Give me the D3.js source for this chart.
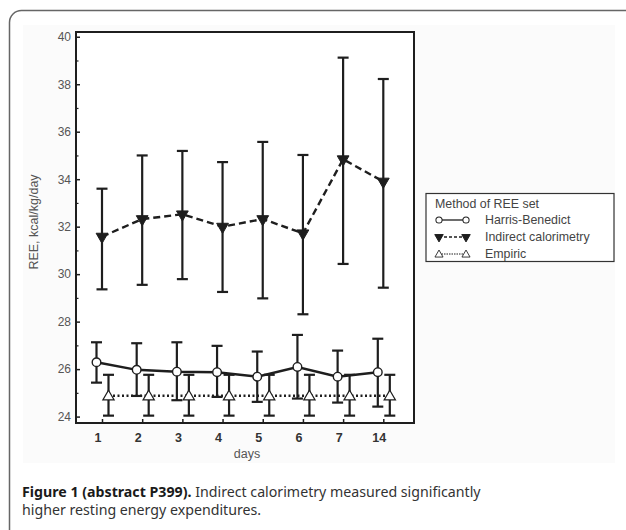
<!DOCTYPE html>
<html>
<head>
<meta charset="utf-8">
<script src="https://cdn.jsdelivr.net/npm/d3@7"></script>
<style>
  body { margin: 0; background: #fff; }
  svg { display: block; }
</style>
</head>
<body>
<script>
// data (REE, kcal/kg/day)
const days = ["1", "2", "3", "4", "5", "6", "7", "14"]

const hbMean  = [26.29, 25.97, 25.89, 25.87, 25.68, 26.09, 25.68, 25.87]
const hbUpper = [27.13, 27.09, 27.13, 26.98, 26.74, 27.44, 26.78, 27.28]
const hbLower = [25.43, 24.87, 24.69, 24.83, 24.62, 24.76, 24.59, 24.42]

const icMean  = [31.58, 32.32, 32.52, 32.00, 32.32, 31.72, 34.84, 33.90]
const icUpper = [33.60, 35.00, 35.19, 34.72, 35.57, 35.02, 39.12, 38.22]
const icLower = [29.36, 29.55, 29.79, 29.25, 28.98, 28.31, 30.43, 29.43]

const empMean  = [24.88, 24.88, 24.88, 24.88, 24.88, 24.88, 24.88, 24.88]
const empUpper = [25.76, 25.76, 25.76, 25.76, 25.76, 25.76, 25.76, 25.76]
const empLower = [24.04, 24.04, 24.04, 24.04, 24.04, 24.04, 24.04, 24.04]

const yTicks = [24, 26, 28, 30, 32, 34, 36, 38, 40]
const yMinor = [25, 27, 29, 31, 33, 35, 37, 39]

const legendTitle = "Method of REE set"
const seriesNames = ["Harris-Benedict", "Indirect calorimetry", "Empiric"]

const width = 626, height = 530
const frame = {left: 76, right: 414, top: 32, bottom: 423}
const ink = "#1e1e1e"
const grey = "#555"

const svg = d3.select("body").append("svg")
  .attr("width", width).attr("height", height)
  .attr("font-family", "'Liberation Sans', Arial, sans-serif")

// outer box of the article figure
svg.append("rect")
  .attr("x", 9.5).attr("y", 10.5).attr("width", 640).attr("height", 620)
  .attr("rx", 12).attr("fill", "#fff").attr("stroke", "#666").attr("stroke-width", 1.5)

// the embedded image area (slightly off-white)
svg.append("rect")
  .attr("x", 23).attr("y", 25).attr("width", 592).attr("height", 438)
  .attr("fill", "#fbfbfb")

const x = d3.scalePoint().domain(days).range([102, 383.3])
const y = d3.scaleLinear().domain([23.73, 40.2]).range([frame.bottom, frame.top])

// plot frame
svg.append("rect")
  .attr("x", frame.left).attr("y", frame.top)
  .attr("width", frame.right - frame.left).attr("height", frame.bottom - frame.top)
  .attr("fill", "#fff").attr("stroke", ink).attr("stroke-width", 2)

// y axis: ticks pointing inward
const yAxis = svg.append("g").attr("transform", `translate(${frame.left},0)`)
yAxis.call(d3.axisRight(y).tickValues(yTicks).tickSize(4).tickFormat(""))
yAxis.call(g => g.select(".domain").remove())
yAxis.selectAll("line").attr("stroke", ink).attr("stroke-width", 1.5)
svg.append("g").attr("transform", `translate(${frame.left},0)`)
  .call(d3.axisRight(y).tickValues(yMinor).tickSize(2.5).tickFormat(""))
  .call(g => g.select(".domain").remove())
  .selectAll("line").attr("stroke", ink).attr("stroke-width", 1.2)
svg.append("g").selectAll("text").data(yTicks).join("text")
  .attr("x", 71).attr("y", d => y(d)).attr("dy", "0.36em")
  .attr("text-anchor", "end").attr("font-size", 12).attr("fill", grey)
  .text(d => d)

// x axis: ticks pointing up into the plot
svg.append("g").attr("transform", `translate(0,${frame.bottom})`)
  .call(d3.axisTop(x).tickSize(4).tickFormat(""))
  .call(g => g.select(".domain").remove())
  .selectAll("line").attr("stroke", ink).attr("stroke-width", 1.5)
svg.append("g").selectAll("text").data(days).join("text")
  .attr("x", d => x(d) - 4).attr("y", 437).attr("dy", "0.36em")
  .attr("text-anchor", "middle").attr("font-size", 12.5).attr("font-weight", "bold")
  .attr("fill", "#333").text(d => d)

svg.append("text").attr("x", 247).attr("y", 453).attr("dy", "0.36em")
  .attr("text-anchor", "middle").attr("font-size", 12.5).attr("fill", grey).text("days")

svg.append("text")
  .attr("transform", "translate(33,222) rotate(-90)").attr("dy", "0.36em")
  .attr("text-anchor", "middle").attr("font-size", 12.5).attr("fill", grey)
  .text("REE, kcal/kg/day")

// series
const series = [
  {name: seriesNames[0], mean: hbMean, lo: hbLower, hi: hbUpper, dx: -5.5, dash: null, marker: "circle"},
  {name: seriesNames[1], mean: icMean, lo: icLower, hi: icUpper, dx: 0, dash: "7,4", marker: "down"},
  {name: seriesNames[2], mean: empMean, lo: empLower, hi: empUpper, dx: 6.5, dash: "2,2.5", marker: "up"}
]

function drawMarker(g, kind, px, py, k = 1) {
  if (kind == "circle") {
    g.append("circle").attr("cx", px).attr("cy", py).attr("r", 4.3 * k)
      .attr("fill", "#fff").attr("stroke", ink).attr("stroke-width", 1.4 * k)
  } else if (kind == "down") {
    g.append("path").attr("d", d3.symbol().type(d3.symbolTriangle).size(60 * k * k)())
      .attr("transform", `translate(${px},${py}) rotate(180)`)
      .attr("fill", ink).attr("stroke", ink).attr("stroke-width", 1)
  } else {
    g.append("path").attr("d", d3.symbol().type(d3.symbolTriangle).size(55 * k * k)())
      .attr("transform", `translate(${px},${py + k})`)
      .attr("fill", "#fff").attr("stroke", ink).attr("stroke-width", 1.2 * k)
  }
}

const plot = svg.append("g")
for (const s of [series[2], series[0], series[1]]) {
  const g = plot.append("g")
  const pts = days.map((d, i) => [x(d) + s.dx, y(s.mean[i])])
  // error bars
  days.forEach((d, i) => {
    const px = x(d) + s.dx
    g.append("line").attr("x1", px).attr("x2", px)
      .attr("y1", y(s.lo[i])).attr("y2", y(s.hi[i]))
      .attr("stroke", ink).attr("stroke-width", 2.2)
    for (const v of [s.lo[i], s.hi[i]]) {
      g.append("line").attr("x1", px - 5.5).attr("x2", px + 5.5)
        .attr("y1", y(v)).attr("y2", y(v))
        .attr("stroke", ink).attr("stroke-width", 2.2)
    }
  })
  g.append("path").attr("d", d3.line()(pts))
    .attr("fill", "none").attr("stroke", ink).attr("stroke-width", 2.4)
    .attr("stroke-dasharray", s.dash)
  pts.forEach(p => drawMarker(g, s.marker, p[0], p[1]))
}

// legend
const lg = svg.append("g")
lg.append("rect").attr("x", 426).attr("y", 193.5).attr("width", 188).attr("height", 68)
  .attr("fill", "#fff").attr("stroke", "#333").attr("stroke-width", 1.2)
lg.append("text").attr("x", 435).attr("y", 204).attr("dy", "0.36em")
  .attr("font-size", 12.4).attr("fill", "#444").text(legendTitle)
series.forEach((s, i) => {
  const cy = 220 + i * 17
  lg.append("line").attr("x1", 439).attr("x2", 466).attr("y1", cy).attr("y2", cy)
    .attr("stroke", ink).attr("stroke-width", s.marker == "up" ? 1 : 1.3)
    .attr("stroke-dasharray", s.marker == "down" ? "3,2" : (s.marker == "up" ? "1.5,1" : null))
  for (const px of [439, 466]) drawMarker(lg, s.marker, px, cy, 0.72)
  lg.append("text").attr("x", 485).attr("y", cy).attr("dy", "0.36em")
    .attr("font-size", 12.4).attr("fill", "#444").text(s.name)
})

// caption
const cap = svg.append("g").attr("font-family", "'Noto Sans', 'Open Sans', sans-serif")
  .attr("font-size", 14.2).attr("fill", "#333")
const l1 = cap.append("text").attr("x", 22).attr("y", 497)
l1.append("tspan").attr("font-weight", "bold").attr("fill", "#1a1a1a").text("Figure 1 (abstract P399).")
l1.append("tspan").text(" Indirect calorimetry measured significantly")
cap.append("text").attr("x", 22).attr("y", 515).text("higher resting energy expenditures.")
</script>
</body>
</html>
